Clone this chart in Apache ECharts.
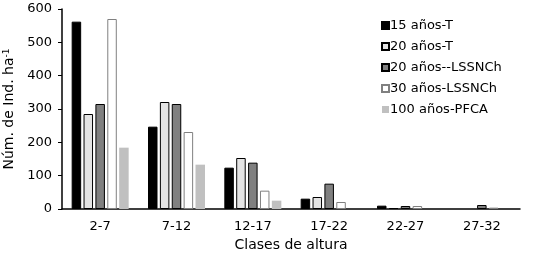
<!DOCTYPE html>
<html>
<head>
<meta charset="utf-8">
<script src="https://cdn.jsdelivr.net/npm/echarts@6/dist/echarts.min.js"></script>
<style>
    html, body { margin: 0; padding: 0; background: #fff; }
    #chart { width: 543px; height: 255px; }
</style>
</head>
<body>
<div id="chart"></div>
<script>
var categories = ['2-7', '7-12', '12-17', '17-22', '22-27', '27-32'];
var seriesNames = ['15 años-T', '20 años-T', '20 años--LSSNCh', '30 años-LSSNCh', '100 años-PFCA'];
var t15 = [562, 247, 124, 31, 10, 0];
var t20 = [285, 321, 153, 36, 3, 0];
var lss20 = [315, 315, 139, 76, 9, 12];
var lss30 = [570, 231, 55, 21, 9, 4];
var pfca100 = [184, 133, 25, 0, 0, 0];

(function () {
    var chart = echarts.init(document.getElementById('chart'));
    var font = 'DejaVu Sans';

    // fill / border per series
    var styles = [
        { color: '#000000', borderColor: '#000000', borderWidth: 1 },
        { color: '#e4e4e4', borderColor: '#000000', borderWidth: 1 },
        { color: '#808080', borderColor: '#000000', borderWidth: 1 },
        { color: '#ffffff', borderColor: '#808080', borderWidth: 1 },
        { color: '#c0c0c0', borderColor: '#c0c0c0', borderWidth: 0 }
    ];
    var data = [t15, t20, lss20, lss30, pfca100];

    var series = [];
    for (var i = 0; i < data.length; i++) {
        series.push({
            name: seriesNames[i],
            type: 'bar',
            barWidth: 9.5,
            barGap: '25%',
            itemStyle: styles[i],
            // empty cells: no bar, no border line
            data: data[i].map(function (v) { return v === 0 ? '-' : v; })
        });
    }

    chart.setOption({
        animation: false,
        textStyle: { fontFamily: font },
        legend: {
            orient: 'vertical',
            left: 376,
            top: 14,
            itemWidth: 7,
            itemHeight: 7,
            itemGap: 8,
            icon: 'rect',
            textStyle: { fontFamily: font, fontSize: 13, color: '#000', padding: [0, 0, 0, -4] },
            data: seriesNames
        },
        grid: { left: 62, right: 23, top: 9, bottom: 46, containLabel: false, outerBoundsMode: 'none' },
        xAxis: {
            type: 'category',
            data: categories,
            axisLine: { lineStyle: { color: '#000', width: 1.5 } },
            axisTick: { show: false },
            axisLabel: { color: '#000', fontSize: 13, fontFamily: font, margin: 11 },
            name: 'Clases de altura',
            nameLocation: 'middle',
            nameGap: 29,
            nameTextStyle: { color: '#000', fontSize: 14, fontFamily: font }
        },
        yAxis: {
            type: 'value',
            min: 0,
            max: 600,
            interval: 100,
            axisLine: { show: true, lineStyle: { color: '#000', width: 1.5 } },
            axisTick: { show: true, length: 4, lineStyle: { color: '#000' } },
            splitLine: { show: false },
            axisLabel: { color: '#000', fontSize: 13, fontFamily: font, margin: 10 },
            name: 'Núm. de Ind. ha{sup|-1}',
            nameLocation: 'middle',
            nameGap: 42,
            nameTextStyle: {
                color: '#000', fontSize: 14, fontFamily: font,
                rich: { sup: { fontSize: 9, verticalAlign: 'top', color: '#000', padding: [0, 0, 6, 0] } }
            }
        },
        series: series
    });
})();
</script>
</body>
</html>
